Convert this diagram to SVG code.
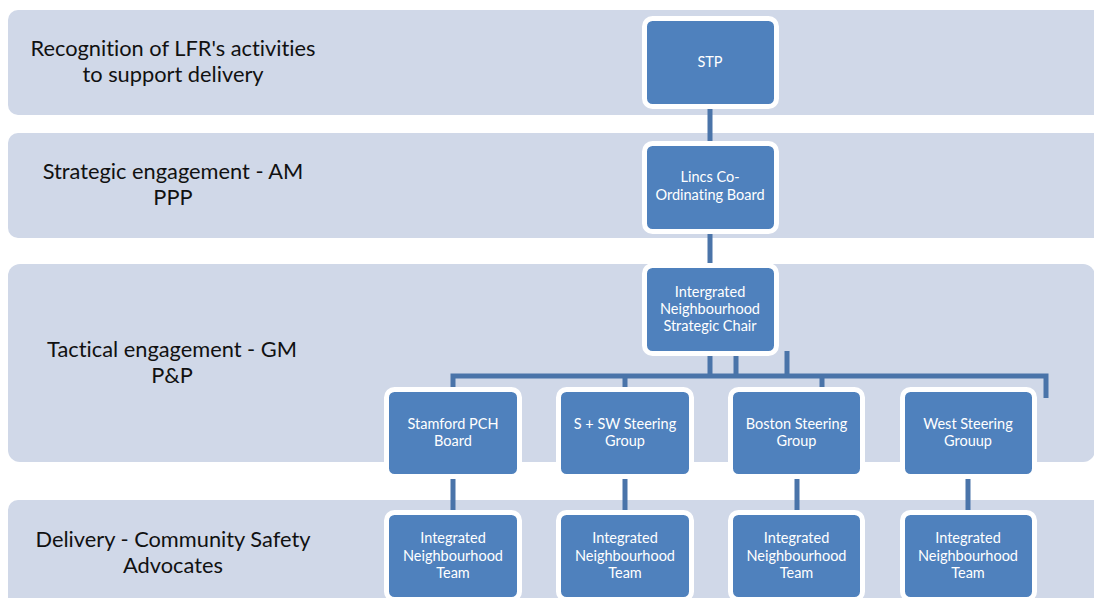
<svg xmlns="http://www.w3.org/2000/svg" width="1094" height="598" viewBox="0 0 1094 598">
<style>
.band{fill:#d0d8e8}
.lbl{font-family:Lato,"Open Sans","Liberation Sans",sans-serif;font-size:21.8px;fill:#111;text-anchor:middle;font-variant-ligatures:none}
.node rect{fill:#4f81bd;stroke:#fff;stroke-width:5}
.node text{font-family:Lato,"Open Sans","Liberation Sans",sans-serif;font-size:14.5px;fill:#fff;text-anchor:middle;font-variant-ligatures:none}
.conn{fill:none;stroke:#4a74a9;stroke-width:5}
</style>
<rect width="1094" height="598" fill="#fff"/>
<g id="bands">
<rect class="band" x="8" y="10" width="1110" height="105" rx="10"/>
<rect class="band" x="8" y="133" width="1110" height="105" rx="10"/>
<rect class="band" x="8" y="264" width="1087" height="198" rx="12"/>
<rect class="band" x="8" y="500" width="1110" height="120" rx="10"/>
<text class="lbl" x="173" y="56">Recognition of LFR's activities</text>
<text class="lbl" x="173" y="82">to support delivery</text>
<text class="lbl" x="173" y="179">Strategic engagement - AM</text>
<text class="lbl" x="173" y="205">PPP</text>
<text class="lbl" x="172" y="357">Tactical engagement - GM</text>
<text class="lbl" x="172" y="383">P&amp;P</text>
<text class="lbl" x="173" y="547">Delivery - Community Safety</text>
<text class="lbl" x="173" y="573">Advocates</text>
</g>
<g id="connectors">
<path class="conn" d="M710 106V146M710 229V268"/>
<path class="conn" d="M710 351V376M736 351V376M787 351V376"/>
<path class="conn" d="M453 392V376H1046V398"/>
<path class="conn" d="M625 376V392M822 376V392"/>
<path class="conn" d="M453 474V515M625 474V515M797 474V515M968 474V515"/>
</g>
<g id="stp" class="node"><rect x="644.5" y="18.5" width="132" height="88" rx="8"/><text x="710" y="67">STP</text></g>
<g id="lincs" class="node"><rect x="644.5" y="143.5" width="132" height="88" rx="8"/><text x="710" y="182">Lincs Co-</text><text x="710" y="200">Ordinating Board</text></g>
<g id="insc" class="node"><rect x="644.5" y="265.5" width="132" height="88" rx="8"/><text x="710" y="297">Intergrated</text><text x="710" y="314">Neighbourhood</text><text x="710" y="331">Strategic Chair</text></g>
<g id="stamford" class="node"><rect x="386.5" y="389.5" width="133" height="87" rx="8"/><text x="453" y="429">Stamford PCH</text><text x="453" y="446">Board</text></g>
<g id="ssw" class="node"><rect x="558.5" y="389.5" width="133" height="87" rx="8"/><text x="625" y="429">S + SW Steering</text><text x="625" y="446">Group</text></g>
<g id="boston" class="node"><rect x="730.5" y="389.5" width="132" height="87" rx="8"/><text x="796.5" y="429">Boston Steering</text><text x="796.5" y="446">Group</text></g>
<g id="west" class="node"><rect x="902.5" y="389.5" width="132" height="87" rx="8"/><text x="968" y="429">West Steering</text><text x="968" y="446">Grouup</text></g>
<g id="int1" class="node"><rect x="386.5" y="512.5" width="133" height="87" rx="8"/><text x="453" y="543">Integrated</text><text x="453" y="561">Neighbourhood</text><text x="453" y="578">Team</text></g>
<g id="int2" class="node"><rect x="558.5" y="512.5" width="133" height="87" rx="8"/><text x="625" y="543">Integrated</text><text x="625" y="561">Neighbourhood</text><text x="625" y="578">Team</text></g>
<g id="int3" class="node"><rect x="730.5" y="512.5" width="132" height="87" rx="8"/><text x="796.5" y="543">Integrated</text><text x="796.5" y="561">Neighbourhood</text><text x="796.5" y="578">Team</text></g>
<g id="int4" class="node"><rect x="902.5" y="512.5" width="132" height="87" rx="8"/><text x="968" y="543">Integrated</text><text x="968" y="561">Neighbourhood</text><text x="968" y="578">Team</text></g>
</svg>
